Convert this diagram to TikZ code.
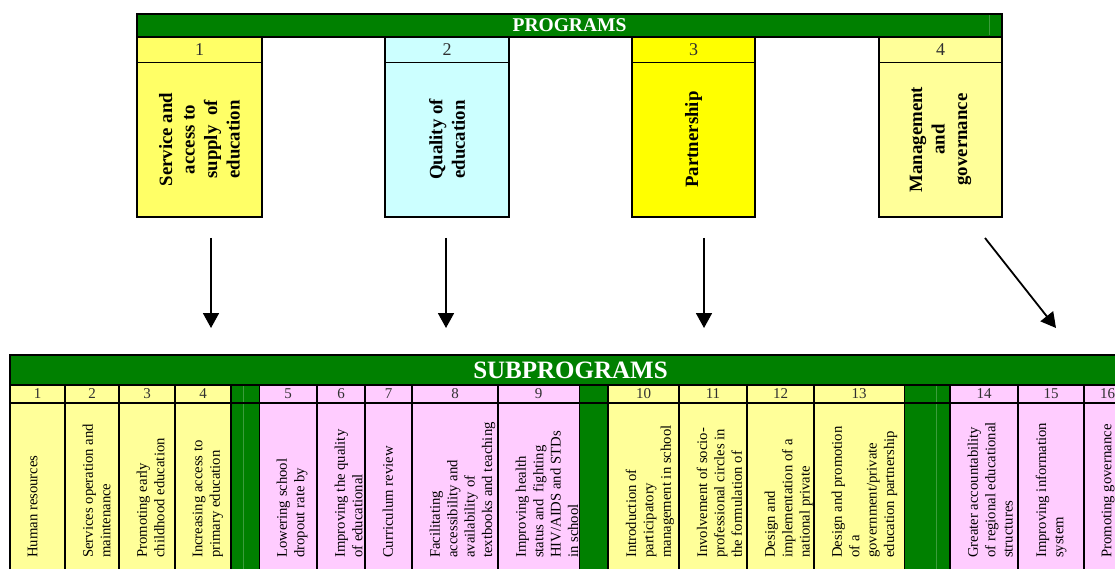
\documentclass[tikz,border=0pt]{standalone}
\usepackage{fontspec}
\setmainfont{Liberation Serif}
\usetikzlibrary{arrows.meta}

\definecolor{xgreen}{HTML}{008000}
\definecolor{gridgreen}{HTML}{3C9C3C}
\definecolor{lightyel}{HTML}{FFFF99}
\definecolor{midyel}{HTML}{FFFF66}
\definecolor{brightyel}{HTML}{FFFF00}
\definecolor{paleblue}{HTML}{CCFFFF}
\definecolor{palepink}{HTML}{FFCCFF}
\definecolor{numgray}{HTML}{303030}

\tikzset{
  cellbox/.style={inner sep=0pt, outer sep=0pt, anchor=north west},
  barbox/.style={cellbox, fill=xgreen, draw=black, line width=2.3pt},
  bartitle/.style={text=white, font=\bfseries},
  progtext/.style={rotate=90, align=center, inner sep=0pt,
    font=\fontsize{18.8}{22.5}\selectfont\bfseries},
  subtext/.style={rotate=90, align=left, anchor=north west, inner sep=0pt,
    font=\fontsize{14.7}{17.4}\selectfont},
  numtop/.style={text=numgray, font=\fontsize{18}{20}\selectfont},
  numsub/.style={text=numgray, font=\fontsize{15}{17}\selectfont},
  heavy/.style={line width=2.3pt},
  light/.style={line width=0.9pt},
  faint/.style={draw=gridgreen, line width=0.6pt},
  flow/.style={line width=1.8pt, -{Triangle[length=15pt,width=16pt]}},
}

% one program box: number, left x, right x, fill colour, title
\newcommand\mkprogbox[5]{%
  \node[cellbox, fill=#4, minimum width={(#3-#2)*1pt}, minimum height=25pt] (pn#1) at (#2,37) {};
  \node[numtop] (pnum#1) at (pn#1.center) {#1};
  \node[cellbox, fill=#4, minimum width={(#3-#2)*1pt}, minimum height=155pt] (pb#1) at (#2,62) {};
  \node[progtext] (pt#1) at (pb#1.center) {#5};
  \draw[light] (#2,62) -- (#3,62);
  \draw[heavy] (#2,37) rectangle (#3,217);
}

% one subprogram column: number, left x, right x, fill colour, wrapped title
\newcommand\mksubcol[5]{%
  \fill[#4] (#2,385) rectangle (#3,569);
  \node[numsub] (sn#1) at ({(#2+#3)/2},394) {#1};
  \begin{scope}
    \clip (#2,403) rectangle (#3,569);
    \node[subtext] (st#1) at (#2+17.5,558) {#5};
  \end{scope}
}

\begin{document}
\begin{tikzpicture}[x=1pt,y=-1pt]
\useasboundingbox (0,0) rectangle (1115,569);
\clip (0,0) rectangle (1115,569);
\fill[white] (0,0) rectangle (1115,569);

% ---------- programs ----------
\node[barbox, minimum width=865pt, minimum height=23pt] (progbar) at (137,14) {};
\draw[faint] (989,15.5) -- (989,35.5);
\node[bartitle, font=\fontsize{19.5}{22}\selectfont\bfseries] (progtitle) at (progbar.center) {PROGRAMS};

\mkprogbox{1}{137}{262}{midyel}{Service and\\access to\\supply\ \ of\\education}
\mkprogbox{2}{385}{509}{paleblue}{Quality of\\education}
\mkprogbox{3}{632}{755}{brightyel}{Partnership}
\mkprogbox{4}{879}{1002}{lightyel}{Management\\and\\governance}

% ---------- arrows ----------
\coordinate (a1s) at (211,238);  \coordinate (a1e) at (211,328);
\coordinate (a2s) at (446,238);  \coordinate (a2e) at (446,328);
\coordinate (a3s) at (704,238);  \coordinate (a3e) at (704,328);
\coordinate (a4s) at (985,238);  \coordinate (a4e) at (1056,328);
\draw[flow] (a1s) -- (a1e);
\draw[flow] (a2s) -- (a2e);
\draw[flow] (a3s) -- (a3e);
\draw[flow] (a4s) -- (a4e);

% ---------- subprograms ----------
\fill[xgreen] (10,385) rectangle (1131,569);

\mksubcol{1}{10}{65}{lightyel}{Human resources}
\mksubcol{2}{65}{119}{lightyel}{Services operation and\\maintenance}
\mksubcol{3}{119}{175}{lightyel}{Promoting early\\childhood education}
\mksubcol{4}{175}{231}{lightyel}{Increasing access to\\primary education}

\mksubcol{5}{259}{317}{palepink}{Lowering school\\dropout rate by}
\mksubcol{6}{317}{365}{palepink}{Improving the quality\\of educational}
\mksubcol{7}{365}{412}{palepink}{Curriculum review}
\mksubcol{8}{412}{498}{palepink}{Facilitating\\accessibility and\\availability of\\textbooks and teaching}
\mksubcol{9}{498}{579}{palepink}{Improving health\\status and\ \ fighting\\HIV/AIDS and STDs\\in school}

\mksubcol{10}{608}{679}{lightyel}{Introduction of\\participatory\\management in school}
\mksubcol{11}{679}{747}{lightyel}{Involvement of socio-\\professional circles in\\the formulation of}
\mksubcol{12}{747}{814}{lightyel}{Design and\\implementation of a\\national private}
\mksubcol{13}{814}{904}{lightyel}{Design and promotion\\of a\\government/private\\education partnership}

\mksubcol{14}{950}{1018}{palepink}{Greater accountability\\of regional educational\\structures}
\mksubcol{15}{1018}{1084}{palepink}{Improving information\\system}
\mksubcol{16}{1084}{1131}{palepink}{Promoting governance}

% light gridlines inside the green spacer columns
\draw[faint] (243,386) -- (243,569);
\draw[faint] (936,386) -- (936,569);

% cell rules
\draw[line width=1.8pt] (10,403) -- (1131,403);
\foreach \x in {65,119,175,231,317,365,412,498,608,679,747,814,950,1018,1084}
  \draw[heavy] (\x,385) -- (\x,569);
\foreach \x in {259,579,904}
  \draw[light] (\x,385) -- (\x,569);
\draw[heavy] (10,355) -- (10,569);

\node[barbox, minimum width=1121pt, minimum height=30pt] (subbar) at (10,355) {};
\node[bartitle, font=\fontsize{25}{28}\selectfont\bfseries] (subtitle) at (subbar.center) {SUBPROGRAMS};
\end{tikzpicture}
\end{document}
